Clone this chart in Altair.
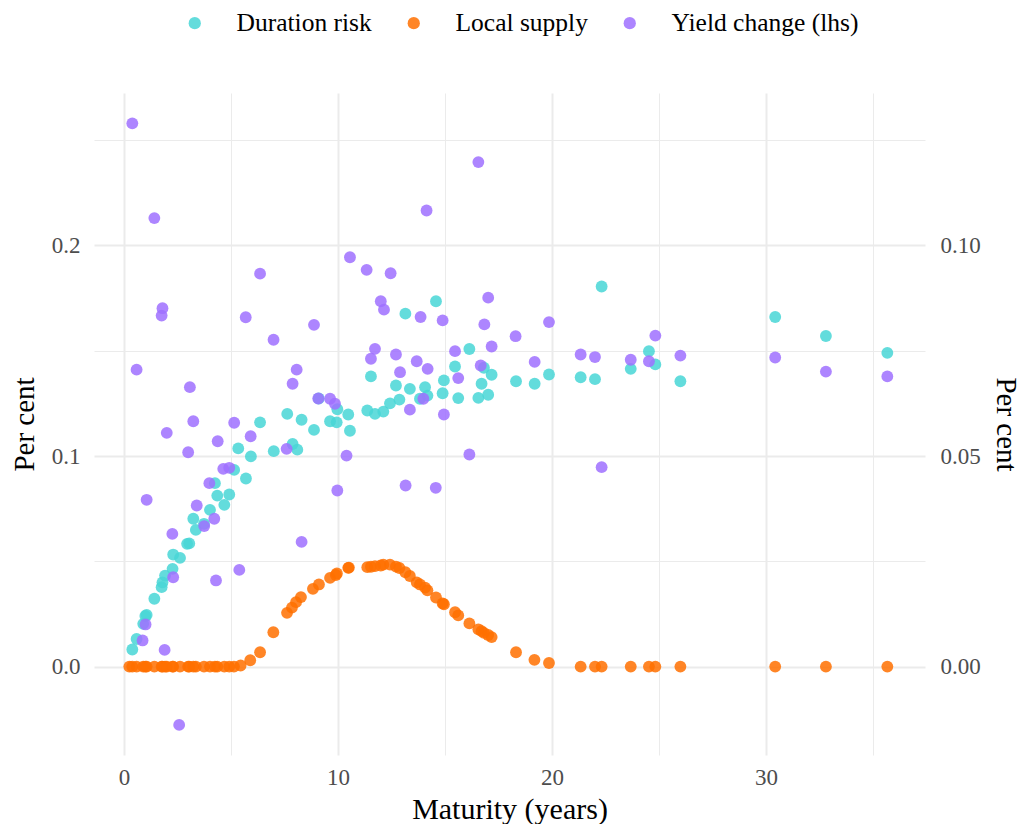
import altair as alt
import pandas as pd

SERIES = ["Duration risk", "Local supply", "Yield change (lhs)"]
COLORS = ["#48D6D6", "#FF7000", "#9F70FF"]

dur_x = [0.39, 0.59, 0.9, 1.0, 1.06, 1.42, 1.76, 1.8, 1.92, 2.27, 2.3, 2.62, 2.95, 3.05,
         3.24, 3.36, 3.74, 4.02, 4.25, 4.36, 4.69, 4.92, 5.15, 5.34, 5.7, 5.93, 6.36, 7.0,
         7.63, 7.88, 8.1, 8.3, 8.88, 9.1, 9.63, 9.94, 9.97, 10.48, 10.56, 11.37, 11.54, 11.73,
         12.12, 12.43, 12.71, 12.87, 13.15, 13.36, 13.83, 14.07, 14.18, 14.58, 14.89, 14.95,
         15.47, 15.62, 16.14, 16.56, 16.71, 16.82, 17.02, 17.18, 18.32, 19.19, 19.86, 21.34,
         22.01, 22.32, 23.68, 24.53, 24.83, 26.0, 30.43, 32.8, 35.67]
dur_y = [0.0081, 0.0131, 0.0203, 0.0240, 0.0245, 0.0322, 0.0377, 0.0400, 0.0432, 0.0464,
         0.0532, 0.0516, 0.0583, 0.0585, 0.0702, 0.0649, 0.0678, 0.0744, 0.0871, 0.0812,
         0.0768, 0.0817, 0.0934, 0.1036, 0.0893, 0.0998, 0.1160, 0.1023, 0.1200, 0.1057,
         0.1030, 0.1172, 0.1124, 0.1273, 0.1165, 0.1160, 0.1222, 0.1197, 0.1120, 0.1216,
         0.1378, 0.1200, 0.1211, 0.1250, 0.1335, 0.1268, 0.1676, 0.1319, 0.1272, 0.1327,
         0.1287, 0.1735, 0.1298, 0.1359, 0.1425, 0.1275, 0.1508, 0.1276, 0.1343, 0.1419,
         0.1291, 0.1386, 0.1355, 0.1343, 0.1387, 0.1374, 0.1365, 0.1805, 0.1414, 0.1498,
         0.1435, 0.1355, 0.1660, 0.1570, 0.1490]

loc_x = [0.25, 0.39, 0.59, 0.9, 1.0, 1.06, 1.42, 1.76, 1.8, 1.92, 2.0, 2.27, 2.3, 2.62, 3.0,
         3.05, 3.24, 3.36, 3.74, 4.02, 4.25, 4.36, 4.69, 4.92, 5.14, 5.45, 5.9, 6.36, 6.98,
         7.62, 7.85, 8.04, 8.27, 8.83, 9.11, 9.63, 9.9, 9.95, 10.48, 10.51, 11.37, 11.54,
         11.73, 12.0, 12.12, 12.43, 12.71, 12.87, 13.15, 13.36, 13.68, 13.83, 14.07, 14.18,
         14.58, 14.89, 14.95, 15.47, 15.62, 16.14, 16.56, 16.71, 16.82, 17.02, 17.18, 18.32,
         19.18, 19.86, 21.34, 22.01, 22.32, 23.68, 24.53, 24.83, 26.0, 30.43, 32.8, 35.67]
loc_y = [0, 0, 0, 0, 0, 0, 0, 0, 0, 0, 0, 0, 0, 0, 0,
         0, 0, 0, 0, 0, 0, 0, 0, 0, 0, 0.0005, 0.003, 0.0068, 0.0163,
         0.0255, 0.0280, 0.0306, 0.0330, 0.0369, 0.0390, 0.0421, 0.0435, 0.0442, 0.0469,
         0.0470, 0.0472, 0.0474, 0.0477, 0.0480, 0.0484, 0.0484, 0.0475, 0.0468, 0.0448,
         0.0430, 0.0400, 0.0390, 0.0375, 0.0362, 0.0328, 0.0300, 0.0296, 0.0258, 0.0243,
         0.0205, 0.0177, 0.0168, 0.0160, 0.0150, 0.0140, 0.0068, 0.0032, 0.0017, 0, 0, 0,
         0, 0, 0, 0, 0, 0, 0]

yld_x = [0.39, 0.59, 0.87, 1.01, 1.06, 1.42, 1.76, 1.8, 1.9, 2.0, 2.26, 2.3, 2.58, 3.0, 3.08,
         3.24, 3.4, 3.75, 3.99, 4.22, 4.3, 4.38, 4.64, 4.92, 5.15, 5.39, 5.69, 5.92, 6.36,
         6.99, 7.6, 7.88, 8.07, 8.3, 8.88, 9.08, 9.63, 9.86, 9.97, 10.4, 10.56, 11.34, 11.54,
         11.73, 12.0, 12.15, 12.46, 12.71, 12.9, 13.16, 13.36, 13.68, 13.86, 13.99, 14.14,
         14.19, 14.57, 14.89, 14.95, 15.47, 15.62, 16.14, 16.56, 16.67, 16.84, 17.02, 17.18,
         18.3, 19.19, 19.86, 21.34, 22.01, 22.32, 23.68, 24.53, 24.83, 26.0, 30.43, 32.8, 35.67]
yld_y = [0.2580, 0.1410, 0.0124, 0.0200, 0.0792, 0.2130, 0.1667, 0.1702, 0.0079, 0.1110,
         0.0630, 0.0424, -0.0277, 0.1018, 0.1327, 0.1165, 0.0765, 0.0667, 0.0871, 0.0702,
         0.0409, 0.1070, 0.0939, 0.0944, 0.1158, 0.0459, 0.1659, 0.1094, 0.1866, 0.1552,
         0.1034, 0.1343, 0.1410, 0.0592, 0.1623, 0.1273, 0.1272, 0.1248, 0.0836, 0.1002,
         0.1944, 0.1884, 0.1462, 0.1509, 0.1735, 0.1695, 0.1868, 0.1482, 0.1398, 0.0860,
         0.1220, 0.1450, 0.1660, 0.1272, 0.2166, 0.1414, 0.0849, 0.1644, 0.1197, 0.1498,
         0.1370, 0.1007, 0.2396, 0.1430, 0.1625, 0.1752, 0.1520, 0.1569, 0.1447, 0.1636,
         0.1482, 0.1470, 0.0947, 0.1457, 0.1450, 0.1572, 0.1477, 0.1468, 0.1401, 0.1378]

right_ticks = [0.0, 0.05, 0.10]
x_ticks = [0, 5, 10, 15, 20, 25, 30, 35]
y_ticks = [0.0, 0.05, 0.10, 0.15, 0.20, 0.25]

df = pd.concat([
    pd.DataFrame({"maturity": dur_x, "value": dur_y, "series": SERIES[0]}),
    pd.DataFrame({"maturity": loc_x, "value": loc_y, "series": SERIES[1]}),
    pd.DataFrame({"maturity": yld_x, "value": yld_y, "series": SERIES[2]}),
], ignore_index=True)

FONT = "Liberation Serif"
X_DOM = [-1.40, 37.43]
Y_DOM = [-0.042, 0.2724]
Y2_DOM = [Y_DOM[0] / 2, Y_DOM[1] / 2]
W, H = 831, 662
TICK_FS = 23
TITLE_FS = 29

x_axis = alt.Axis(
    values=x_ticks,
    labelExpr="datum.value % 10 === 0 ? datum.label : ''",
    title="Maturity (years)",
    ticks=False, domain=False,
    grid=True, gridColor="#ebebeb",
    gridWidth={"condition": {"test": "datum.value % 10 === 0", "value": 2}, "value": 1},
    labelFont=FONT, labelFontSize=TICK_FS, labelColor="#4d4d4d", labelPadding=11,
    titleFont=FONT, titleFontSize=30, titleFontWeight="normal", titleColor="black",
    titlePadding=5,
)
y_axis = alt.Axis(
    values=y_ticks,
    labelExpr="abs(datum.value*10 - round(datum.value*10)) < 0.001 ? format(datum.value, '.1f') : ''",
    title="Per cent",
    ticks=False, domain=False,
    grid=True, gridColor="#ebebeb",
    gridWidth={"condition": {"test": "abs(datum.value*10 - round(datum.value*10)) < 0.001", "value": 2}, "value": 1},
    labelFont=FONT, labelFontSize=TICK_FS, labelColor="#4d4d4d", labelPadding=14,
    titleFont=FONT, titleFontSize=TITLE_FS, titleFontWeight="normal", titleColor="black",
    titlePadding=12,
)
y2_axis = alt.Axis(
    orient="right", values=right_ticks, format=".2f", title="Per cent",
    ticks=False, domain=False, grid=False,
    labelFont=FONT, labelFontSize=TICK_FS, labelColor="#4d4d4d", labelPadding=15,
    titleFont=FONT, titleFontSize=TITLE_FS, titleFontWeight="normal", titleColor="black",
    titlePadding=10,
)

points = alt.Chart(df).mark_circle(size=140, opacity=0.85).encode(
    x=alt.X("maturity:Q", scale=alt.Scale(domain=X_DOM, nice=False, zero=False), axis=x_axis),
    y=alt.Y("value:Q", scale=alt.Scale(domain=Y_DOM, nice=False, zero=False), axis=y_axis),
    color=alt.Color(
        "series:N",
        scale=alt.Scale(domain=SERIES, range=COLORS),
        legend=alt.Legend(
            title=None, orient="none", direction="horizontal",
            legendX=88, legendY=-83,
            labelFont=FONT, labelFontSize=25.5, labelColor="black", labelLimit=400,
            symbolType="circle", symbolSize=150, symbolOpacity=0.85,
            labelOffset=29, columnPadding=29,
        ),
    ),
)

right = alt.Chart(pd.DataFrame({"v": right_ticks})).mark_point(opacity=0).encode(
    y=alt.Y("v:Q", scale=alt.Scale(domain=Y2_DOM, nice=False, zero=False), axis=y2_axis),
)

chart = alt.layer(points, right).resolve_scale(y="independent").properties(
    width=W, height=H,
    padding={"left": 10, "top": 10, "right": 5, "bottom": 0},
    background="white",
).configure_view(stroke=None)

chart.save("out.html", embed_options={"renderer": "svg", "actions": False})
